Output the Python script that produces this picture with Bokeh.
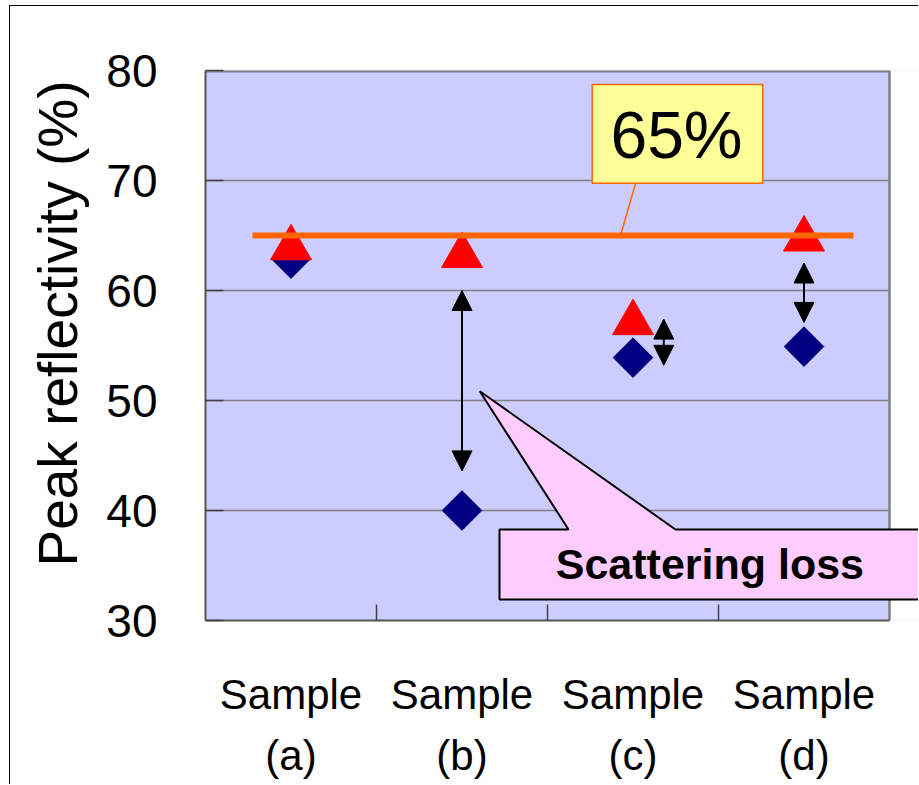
import numpy as np
from bokeh.plotting import figure
from bokeh.models import (ColumnDataSource, FixedTicker, Arrow, NormalHead,
                          PolyAnnotation, Label, Title)
from bokeh.transform import dodge
from bokeh.core.properties import value
from bokeh.embed import file_html
from bokeh.resources import INLINE

# ---------------- data ----------------
samples = ["Sample\n(a)", "Sample\n(b)", "Sample\n(c)", "Sample\n(d)"]
triangle_vals = [64.4, 63.7, 57.6, 65.2]   # red triangles
diamond_vals = [62.9, 40.0, 53.9, 54.9]    # navy diamonds
target = 65.0                              # horizontal reference line
target_label = f"{target:.0f}%"
y_ticks = [30, 40, 50, 60, 70, 80]

# double-headed arrows marking the scattering loss (samples b, c, d)
arrow_sample = [1, 2, 3]
arrow_shift = [0.0, 0.18, 0.0]
arrow_top = [60.0, 57.4, 62.5]
arrow_bottom = [43.6, 53.2, 57.1]

callout_text = "Scattering loss"
y_title = "Peak reflectivity (%)"

# ---------------- layout (page pixels) ----------------
PAGE_W, PAGE_H = 919, 785
OX, OY = 10, 6                              # canvas origin inside the page frame line
FL, FR, FT, FB = 205, 889, 70, 620          # plot-area edges
X0, X1 = 0, len(samples)
Y0, Y1 = y_ticks[0], y_ticks[-1]
PX_PER_X = (FR - FL) / (X1 - X0)
PX_PER_Y = (FB - FT) / (Y1 - Y0)
X_MAX = X0 + (PAGE_W - FL) / PX_PER_X       # frame runs on to the right page edge
FONT = "Liberation Sans"
AREA = "#CCCCFF"


def px_x(px):
    return X0 + (px - FL) / PX_PER_X


def px_y(py):
    return Y1 - (py - FT) / PX_PER_Y


p = figure(width=PAGE_W - OX, height=PAGE_H - OY,
           x_range=(X0, X_MAX), y_range=(Y0, Y1),
           min_border_left=FL - OX, min_border_right=0,
           min_border_top=FT - OY, min_border_bottom=PAGE_H - FB,
           output_backend="svg", toolbar_location=None,
           background_fill_color=AREA, border_fill_color="white",
           outline_line_color=None)
p.styles = {"margin-left": "9px", "margin-top": "5px",
            "border-left": "1px solid black", "border-top": "1px solid black"}

xc = [i + 0.5 for i in range(len(samples))]

# axes
p.xaxis.bounds = (X0, X1)
p.xaxis.ticker = FixedTicker(ticks=xc, minor_ticks=list(range(1, len(samples))))
p.xaxis.major_label_overrides = {x: s for x, s in zip(xc, samples)}
p.xaxis.major_label_text_font = FONT
p.xaxis.major_label_text_font_size = "42px"
p.xaxis.major_label_text_color = "black"
p.xaxis.major_label_text_line_height = 1.3
p.xaxis.major_label_standoff = 50
p.xaxis.major_tick_in = 0
p.xaxis.major_tick_out = 0
p.xaxis.minor_tick_in = 16
p.xaxis.minor_tick_out = 0
p.xaxis.minor_tick_line_color = "#404040"
p.xaxis.minor_tick_line_width = 1.5

p.yaxis.ticker = FixedTicker(ticks=y_ticks, minor_ticks=[])
p.yaxis.major_label_text_font = FONT
p.yaxis.major_label_text_font_size = "46px"
p.yaxis.major_label_text_color = "black"
p.yaxis.major_label_standoff = 48
p.yaxis.major_tick_in = 18
p.yaxis.major_tick_out = 0
p.yaxis.major_tick_line_color = "#404040"
p.yaxis.major_tick_line_width = 1.5

for ax in (p.xaxis, p.yaxis):
    ax.axis_line_color = "#555555"
    ax.axis_line_width = 2

# y title: starts 54 px above the bottom of the plot area, reading upwards
p.add_layout(Title(text=y_title, align="left", offset=54, standoff=28,
                   vertical_align="middle",
                   text_font=FONT, text_font_size="55px",
                   text_font_style="normal", text_color="black"), "left")

p.xgrid.visible = False
p.ygrid.ticker = FixedTicker(ticks=y_ticks[1:-1], minor_ticks=[])
p.ygrid.grid_line_color = "#808080"
p.ygrid.grid_line_width = 1.5

# white margin right of the plot area, then the area's top/right border
p.quad(left=X1, right=X_MAX + 1, bottom=Y0 - 1, top=Y1 + 1,
       fill_color="white", line_color=None)
p.line(x=[X0, X1], y=[Y1, Y1], line_color="#808080", line_width=4)
p.line(x=[X1, X1], y=[Y0, Y1], line_color="#808080", line_width=2.5)

# markers
src = ColumnDataSource(dict(x=xc, tri=triangle_vals, dia=diamond_vals))
p.scatter("x", "dia", source=src, marker="square", angle=np.pi / 4,
          size=28, color="#000080")
TRI_SIZE = 41
# the triangle marker is anchored at its centroid; shift so its box is centred on the value
tri_shift = (TRI_SIZE * np.sqrt(3) / 2 / 6) / PX_PER_Y
p.scatter("x", dodge("tri", -tri_shift), source=src, marker="triangle",
          size=TRI_SIZE, color="#FF0000")

# 65 % reference line with its callout
p.line(x=[px_x(252), px_x(853)], y=[target, target], line_width=6,
       line_color="#FF6600", line_cap="butt")
p.line(x=[px_x(635), px_x(620)], y=[px_y(183), target], line_width=1.5,
       line_color="#FF6600")
p.quad(left=px_x(591.7), right=px_x(762.3), top=px_y(84), bottom=px_y(182.7),
       fill_color="#FFFF99", line_color="#FF6600", line_width=1.5)
p.text(x=[px_x(676)], y=[px_y(134)], text=[target_label],
       text_font=value(FONT), text_font_size="66px", text_color="black",
       text_align="center", text_baseline="middle")

# loss arrows
arrow_src = ColumnDataSource(dict(
    x=[xc[s] + d for s, d in zip(arrow_sample, arrow_shift)],
    y0=arrow_top, y1=arrow_bottom))
p.add_layout(Arrow(start=NormalHead(size=20, fill_color="black", line_color="black"),
                   end=NormalHead(size=20, fill_color="black", line_color="black"),
                   x_start="x", y_start="y0", x_end="x", y_end="y1",
                   source=arrow_src, line_width=2, line_color="black"))

# "Scattering loss" speech bubble
bubble = [(479.3, 390.7), (675, 529), (960, 529), (960, 599),
          (499, 599), (499, 529), (568, 529)]
p.add_layout(PolyAnnotation(xs=[px_x(a) for a, _ in bubble],
                            ys=[px_y(b) for _, b in bubble],
                            fill_color="#FFCCFF", fill_alpha=1.0,
                            line_color="black", line_alpha=1.0, line_width=2))
p.add_layout(Label(x=px_x(709.4), y=px_y(563), text=callout_text,
                   text_font=FONT, text_font_style="bold", text_font_size="43px",
                   text_color="black", text_align="center",
                   text_baseline="middle"))

open("out.html", "w").write(file_html(p, INLINE))
